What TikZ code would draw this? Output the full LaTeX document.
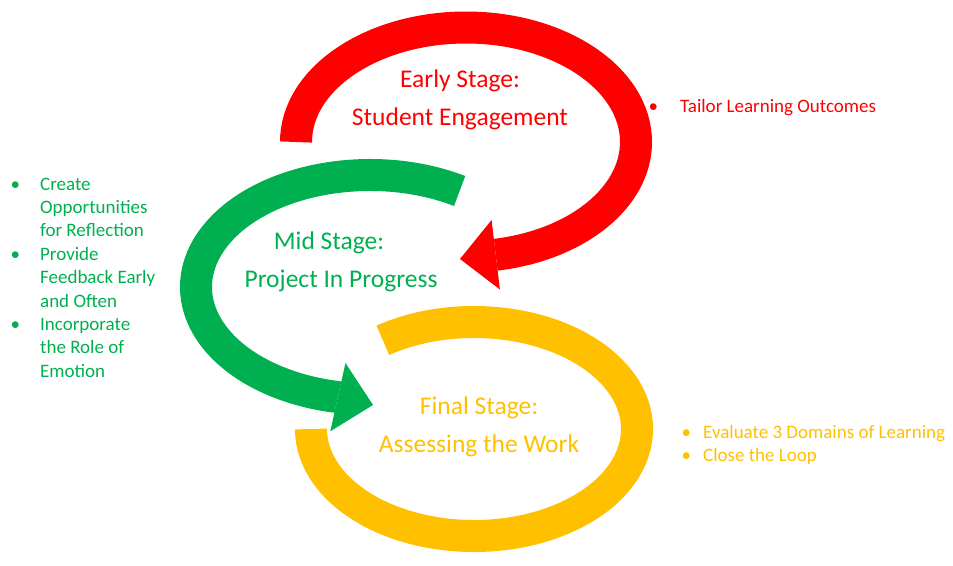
\documentclass[tikz,border=0pt]{standalone}
\usepackage{fontspec}
\setmainfont{Carlito}
\usepackage{tikz}
\usetikzlibrary{arrows.meta, calc}
\definecolor{stagered}{RGB}{255,0,0}
\definecolor{stagegreen}{RGB}{0,176,80}
\definecolor{stageyellow}{RGB}{255,192,0}

\begin{document}
\begin{tikzpicture}[x=1pt, y=1pt,
    band/.style={line width=32pt},
    arr/.style={-{Triangle[length=36pt, width=70pt, line width=0pt]}},
    stage/.style={anchor=base, inner sep=0pt, font=\fontsize{25.5}{38}\selectfont},
    note/.style={anchor=north west, inner sep=0pt, font=\fontsize{19}{23.4}\selectfont}
  ]
  \useasboundingbox (0,0) rectangle (953,-565);

  % centres of the three loops, ends of the two arrows
  \coordinate (redc) at (466,-142);
  \coordinate (greenc) at (370,-287);
  \coordinate (yellowc) at (474,-429);
  \coordinate (redtip) at (460,-259);
  \coordinate (greentip) at (373,-405);

  % early stage: clockwise, ends in an arrow pointing left
  \draw[band, arr, stagered] ($(redc)+(180:170pt and 114.5pt)$)
    arc[start angle=180, end angle=-79, x radius=170pt, y radius=114.5pt] -- (redtip);
  % mid stage: counter-clockwise, arrow pointing right
  \draw[band, arr, stagegreen] ($(greenc)+(59:174pt and 112pt)$)
    arc[start angle=59, end angle=259, x radius=174pt, y radius=112pt] -- (greentip);
  % final stage: open loop, no arrow
  \draw[band, stageyellow] ($(yellowc)+(124:163pt and 107pt)$)
    arc[start angle=124, end angle=-180, x radius=163pt, y radius=107pt];

  % stage titles
  \node[stage, text=stagered] (early) at (460,-87) {Early Stage:};
  \node[stage, text=stagered] (engage) at (460,-125) {Student Engagement};
  \node[stage, text=stagegreen] (mid) at (329,-249) {Mid Stage:};
  \node[stage, text=stagegreen] (progress) at (341,-287) {Project In Progress};
  \node[stage, text=stageyellow] (final) at (479,-414) {Final Stage:};
  \node[stage, text=stageyellow] (assess) at (479,-452) {Assessing the Work};

  % bullet notes
  \node[note, text=stagered] (earlynotes) at (648.5,-95.6) {%
    \begin{tabular}{@{}l@{\hspace{22pt}}l@{}}
      \textbullet & Tailor Learning Outcomes
    \end{tabular}};
  \node[note, text=stagegreen] (midnotes) at (10.5,-173.6) {%
    \begin{tabular}{@{}l@{\hspace{20pt}}l@{}}
      \textbullet & Create\\
                  & Opportunities\\
                  & for Reflection\\
      \textbullet & Provide\\
                  & Feedback Early\\
                  & and Often\\
      \textbullet & Incorporate\\
                  & the Role of\\
                  & Emotion
    \end{tabular}};
  \node[note, text=stageyellow] (finalnotes) at (681.5,-421.6) {%
    \begin{tabular}{@{}l@{\hspace{12pt}}l@{}}
      \textbullet & Evaluate 3 Domains of Learning\\
      \textbullet & Close the Loop
    \end{tabular}};
\end{tikzpicture}
\end{document}
